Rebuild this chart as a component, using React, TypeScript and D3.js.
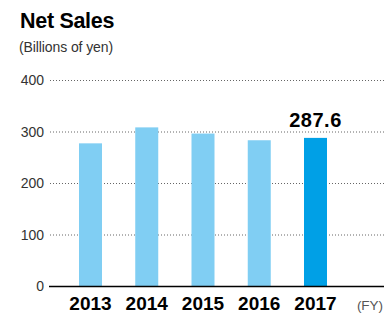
import React from "react";
import { scaleLinear, scalePoint } from "d3";

const years = ["2013", "2014", "2015", "2016", "2017"];
const netSales = [277, 308, 296, 283, 287.6];
const yTicks = [0, 100, 200, 300, 400];

export default function App() {
  const width = 385;
  const height = 317;

  const x = scalePoint<string>().domain(years).range([90.5, 315.5]);
  const y = scaleLinear().domain([0, 400]).range([286, 80]);
  const barWidth = 23;
  const last = years.length - 1;
  const font = "'Liberation Sans', Arial, sans-serif";

  return (
    <svg
      width={width}
      height={height}
      style={{ position: "absolute", left: 0, top: 0, background: "#fff" }}
      fontFamily={font}
    >
      <text x={20} y={28} fontSize={21.5} fontWeight="bold" fill="#000" letterSpacing={-0.3}>
        Net Sales
      </text>
      <text x={19} y={52} fontSize={14} fill="#333" letterSpacing={-0.1}>
        (Billions of yen)
      </text>

      {yTicks.map((t) => (
        <g key={t}>
          {t > 0 && (
            <line
              x1={50}
              x2={384}
              y1={y(t) + 0.5}
              y2={y(t) + 0.5}
              stroke="#666"
              strokeWidth={1}
              strokeDasharray="1,2"
            />
          )}
          <text x={44} y={y(t) + 5} fontSize={14} fill="#333" textAnchor="end">
            {t}
          </text>
        </g>
      ))}

      {years.map((yr, i) => (
        <rect
          key={yr}
          x={(x(yr) as number) - barWidth / 2}
          y={y(netSales[i])}
          width={barWidth}
          height={y(0) - y(netSales[i])}
          fill={i === last ? "#00A0E6" : "#80CEF3"}
        />
      ))}

      <line x1={49} x2={384} y1={y(0) + 0.5} y2={y(0) + 0.5} stroke="#000" strokeWidth={1.3} />

      <text
        x={x(years[last]) as number}
        y={y(netSales[last]) - 11}
        fontSize={20}
        fontWeight="bold"
        textAnchor="middle"
        fill="#000"
        letterSpacing={0.5}
      >
        {netSales[last].toFixed(1)}
      </text>

      {years.map((yr) => (
        <text
          key={yr}
          x={x(yr) as number}
          y={310}
          fontSize={19}
          fontWeight="bold"
          textAnchor="middle"
          fill="#000"
        >
          {yr}
        </text>
      ))}
      <text x={370} y={310} fontSize={13.5} fill="#555" textAnchor="middle">
        (FY)
      </text>
    </svg>
  );
}
